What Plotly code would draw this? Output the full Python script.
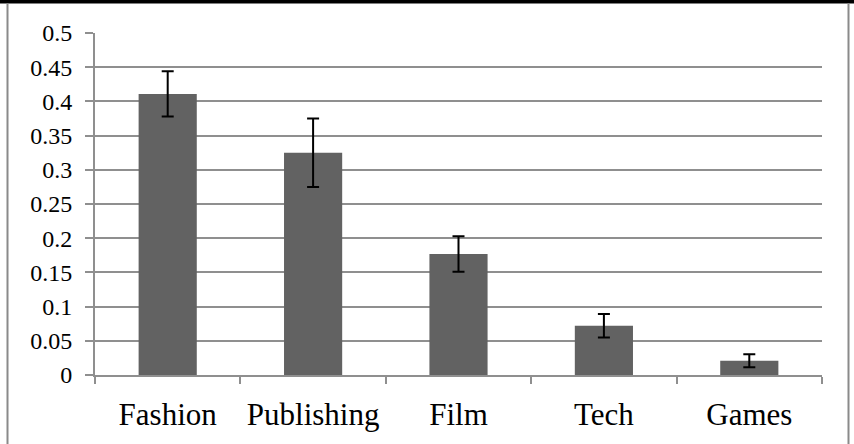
import plotly.graph_objects as go

categories = ["Fashion", "Publishing", "Film", "Tech", "Games"]
values = [0.411, 0.325, 0.177, 0.072, 0.021]
errors = [0.033, 0.050, 0.026, 0.017, 0.0095]
y_ticks = [0, 0.05, 0.1, 0.15, 0.2, 0.25, 0.3, 0.35, 0.4, 0.45, 0.5]
y_tick_labels = ["0", "0.05", "0.1", "0.15", "0.2", "0.25", "0.3", "0.35", "0.4", "0.45", "0.5"]

W, H = 854, 444
L, R, T, B = 95, 32, 33, 69
pw, ph = W - L - R, H - T - B


def px_to_paper_x(px):
    return (px - L) / pw


def px_to_paper_y(py):
    return (H - B - py) / ph


GRID = "#8f8f8f"
FONT = "'Liberation Serif', 'Times New Roman', Tinos, 'DejaVu Serif', serif"

fig = go.Figure(
    go.Bar(
        x=categories,
        y=values,
        marker=dict(color="#626262", line=dict(width=0)),
        error_y=dict(type="data", array=errors, visible=True,
                     color="black", thickness=2, width=6),
        hoverinfo="skip",
    )
)

shapes = [
    dict(type="rect", xref="paper", yref="paper",
         x0=px_to_paper_x(0), x1=px_to_paper_x(W),
         y0=px_to_paper_y(3.5), y1=px_to_paper_y(0),
         fillcolor="black", line=dict(width=0), layer="above"),
    dict(type="line", xref="paper", yref="paper",
         x0=px_to_paper_x(7.5), x1=px_to_paper_x(7.5),
         y0=px_to_paper_y(3), y1=px_to_paper_y(H),
         line=dict(color="#8a8a8a", width=2)),
    dict(type="line", xref="paper", yref="paper",
         x0=px_to_paper_x(848.5), x1=px_to_paper_x(848.5),
         y0=px_to_paper_y(3), y1=px_to_paper_y(H),
         line=dict(color="#8a8a8a", width=2)),
]

fig.update_layout(
    width=W, height=H,
    margin=dict(l=L, r=R, t=T, b=B, autoexpand=False),
    paper_bgcolor="white", plot_bgcolor="white",
    bargap=0.6,
    showlegend=False,
    shapes=shapes,
    font=dict(family=FONT, color="black"),
)

fig.update_xaxes(
    type="category",
    showgrid=False,
    showline=True, linecolor=GRID, linewidth=2,
    ticks="outside", tickson="boundaries", ticklen=7, tickwidth=1.5, tickcolor=GRID,
    tickfont=dict(family=FONT, size=31, color="black"),
    ticklabelstandoff=11,
    automargin=False,
)

fig.update_yaxes(
    range=[0, 0.5],
    tickvals=y_ticks, ticktext=y_tick_labels,
    showgrid=True, gridcolor=GRID, gridwidth=2,
    showline=True, linecolor=GRID, linewidth=2,
    ticks="outside", ticklen=8, tickwidth=2, tickcolor=GRID,
    tickfont=dict(family=FONT, size=24, color="black"),
    ticklabelstandoff=8,
    zeroline=False,
    automargin=False,
)

fig.write_html(
    "out.html",
    config={"displayModeBar": False},
    post_script="document.body.style.margin='0';document.body.style.overflow='hidden';",
)
